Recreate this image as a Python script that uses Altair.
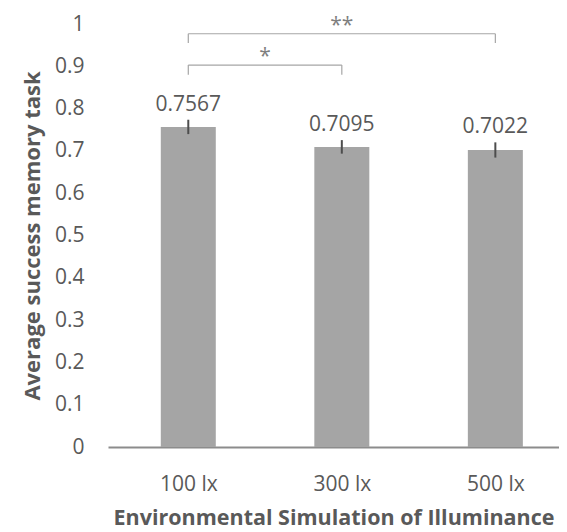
import json
import altair as alt
import pandas as pd

categories = ["100 lx", "300 lx", "500 lx"]
values = [0.7567, 0.7095, 0.7022]
errors = [0.017, 0.016, 0.018]
value_labels = ["0.7567", "0.7095", "0.7022"]

# significance brackets: (from index, to index, level, drop-to level, stars)
br_from = [0, 0]
br_to = [1, 2]
br_y = [0.903, 0.977]
br_drop = [0.88, 0.955]
br_star = ["*", "**"]

y_ticks = [0, 0.1, 0.2, 0.3, 0.4, 0.5, 0.6, 0.7, 0.8, 0.9, 1]

FONT = "Open Sans"
TXT = "#595959"

df = pd.DataFrame({
    "idx": list(range(len(categories))),
    "cat": categories,
    "val": values,
    "lo": [v - e for v, e in zip(values, errors)],
    "hi": [v + e for v, e in zip(values, errors)],
    "lab": value_labels,
})

br = pd.DataFrame({
    "x1": br_from, "x2": br_to, "y": br_y, "yd": br_drop, "star": br_star,
})
br["xm"] = (br["x1"] + br["x2"]) / 2

drops = pd.DataFrame({
    "x": br_from + br_to,
    "y": br_y + br_y,
    "yd": br_drop + br_drop,
})

label_expr = json.dumps(categories) + "[datum.value]"
label_expr_y = "datum.value == 0 ? '0' : datum.value == 1 ? '1' : format(datum.value, '.1f')"

xscale = alt.Scale(domain=[-0.4904, 2.382], nice=False, zero=False)
yscale = alt.Scale(domain=[0, 1], nice=False)

xenc = alt.X(
    "idx:Q", scale=xscale,
    axis=alt.Axis(
        values=[0, 1, 2], labelExpr=label_expr, title="Environmental Simulation of Illuminance",
        grid=False, ticks=False, domain=True, domainColor="#8c8c8c", domainWidth=2,
        labelFont=FONT, labelFontSize=21, labelColor=TXT, labelPadding=26,
        titleFont=FONT, titleFontSize=21.5, titleFontWeight="bold", titleColor=TXT,
        titlePadding=13,
    ),
)
yenc = alt.Y(
    "val:Q", scale=yscale,
    axis=alt.Axis(
        values=y_ticks, labelExpr=label_expr_y, title="Average success memory task",
        grid=False, ticks=False, domain=False,
        labelFont=FONT, labelFontSize=21, labelColor=TXT, labelPadding=24,
        titleFont=FONT, titleFontSize=22, titleFontWeight="bold", titleColor=TXT,
        titlePadding=10,
    ),
)

bars = alt.Chart(df).mark_bar(color="#a5a5a5", size=55).encode(x=xenc, y=yenc)

err = alt.Chart(df).mark_rule(color="#4d4d4d", strokeWidth=2).encode(
    x=alt.X("idx:Q", scale=xscale), y=alt.Y("lo:Q", scale=yscale), y2="hi:Q"
)

txt = alt.Chart(df).mark_text(
    font=FONT, fontSize=21, color=TXT, baseline="alphabetic", dy=-9
).encode(
    x=alt.X("idx:Q", scale=xscale), y=alt.Y("hi:Q", scale=yscale), text="lab:N"
)

hline = alt.Chart(br).mark_rule(color="#a6a6a6", strokeWidth=1.2).encode(
    x=alt.X("x1:Q", scale=xscale), x2="x2:Q", y=alt.Y("y:Q", scale=yscale)
)
vline = alt.Chart(drops).mark_rule(color="#a6a6a6", strokeWidth=1.2).encode(
    x=alt.X("x:Q", scale=xscale), y=alt.Y("y:Q", scale=yscale), y2="yd:Q"
)
stars = alt.Chart(br).mark_text(
    font=FONT, fontSize=21, color="#7f7f7f", baseline="alphabetic", dy=-2
).encode(
    x=alt.X("xm:Q", scale=xscale), y=alt.Y("y:Q", scale=yscale), text="star:N"
)

chart = alt.layer(bars, err, txt, hline, vline, stars).properties(
    width=451, height=423,
    autosize=alt.AutoSizeParams(type="none"),
    padding={"left": 100, "top": 16, "right": 0, "bottom": 84},
).configure_view(stroke=None)

chart.save("out.html", embed_options={"renderer": "svg", "actions": False})
